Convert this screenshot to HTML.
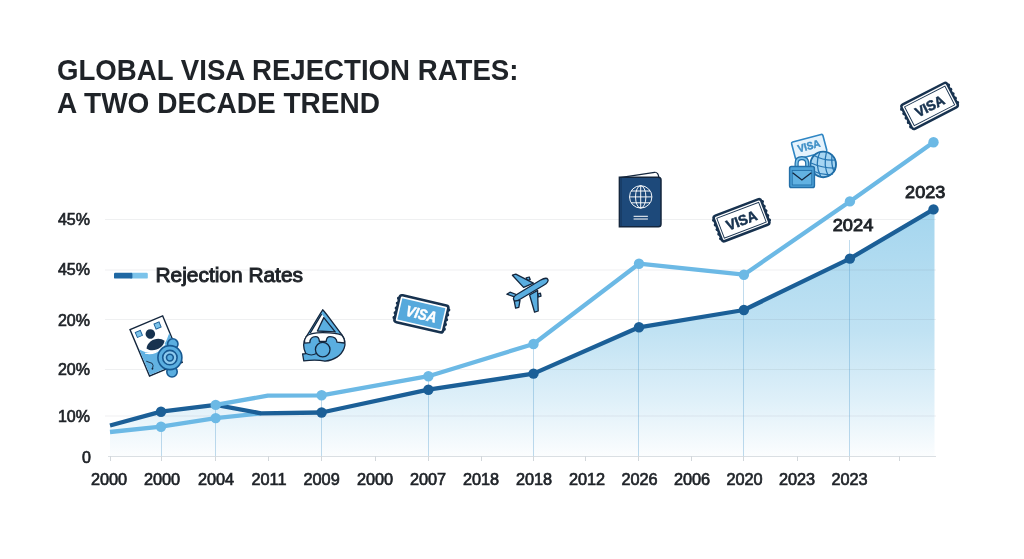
<!DOCTYPE html>
<html lang="en">
<head>
<meta charset="utf-8">
<title>Global Visa Rejection Rates: A Two Decade Trend</title>
<style>
  html, body { margin: 0; padding: 0; background: #ffffff; }
  body { width: 1024px; height: 559px; overflow: hidden; }
  svg { display: block; }
  text { font-family: "Liberation Sans", Arial, sans-serif; fill: #1f2328; }
  .title { font-size: 29.5px; font-weight: bold; }
  .ylab { font-size: 16px; font-weight: normal; stroke: #1f2328; stroke-width: 0.68px; text-anchor: end; }
  .xlab { font-size: 16.3px; font-weight: normal; stroke: #1f2328; stroke-width: 0.68px; text-anchor: middle; }
  .legend { font-size: 20px; font-weight: normal; stroke: #1f2328; stroke-width: 0.95px; }
  .ann { font-size: 17.2px; font-weight: normal; stroke: #1f2328; stroke-width: 0.9px; text-anchor: middle; }
  .grid line { stroke: rgba(80,95,110,0.095); stroke-width: 1; }
  .guide line { stroke: rgba(80,155,205,0.36); stroke-width: 1; }
  .ticks line { stroke: #d2d7db; stroke-width: 1; }
</style>
</head>
<body>
<svg width="1024" height="559" viewBox="0 0 1024 559">
  <defs>
    <linearGradient id="areaFill" gradientUnits="userSpaceOnUse" x1="0" y1="205" x2="0" y2="456">
      <stop offset="0" stop-color="#a3d5ee"/>
      <stop offset="0.5" stop-color="#c0e2f3"/>
      <stop offset="0.78" stop-color="#dff0f9"/>
      <stop offset="1" stop-color="#fbfdfe"/>
    </linearGradient>
  </defs>
  <rect x="0" y="0" width="1024" height="559" fill="#ffffff"/>

  <!-- TITLE -->
  <text class="title" x="57" y="79.5" textLength="461.5" lengthAdjust="spacingAndGlyphs">GLOBAL VISA REJECTION RATES:</text>
  <text class="title" x="57" y="112.5" textLength="323" lengthAdjust="spacingAndGlyphs">A TWO DECADE TREND</text>

  <!-- AREA -->
  <path id="area" fill="url(#areaFill)" d="M110,425.5 L161,411.7 L215.7,404.9 L261,413.3 L321.6,412.5 L428.4,389.7 L533.5,373.6 L639,327.3 L743.9,310 L849.9,258.6 L934.5,208.9 L934.5,456 L110,456 Z"/>

  <!-- GRID -->
  <g class="grid">
    <line x1="105" y1="219.5" x2="936" y2="219.5"/>
    <line x1="105" y1="270" x2="936" y2="270"/>
    <line x1="105" y1="319.5" x2="936" y2="319.5"/>
    <line x1="105" y1="369.5" x2="936" y2="369.5"/>
    <line x1="105" y1="416" x2="936" y2="416"/>
  </g>

  <!-- axis -->
  <line x1="108" y1="456.5" x2="936" y2="456.5" stroke="#dadfe3" stroke-width="1"/>
  <g class="ticks">
    <line x1="110.5" y1="456" x2="110.5" y2="461"/>
    <line x1="161.5" y1="456" x2="161.5" y2="461"/>
    <line x1="215.5" y1="456" x2="215.5" y2="461"/>
    <line x1="268.5" y1="456" x2="268.5" y2="461"/>
    <line x1="321.5" y1="456" x2="321.5" y2="461"/>
    <line x1="375.5" y1="456" x2="375.5" y2="461"/>
    <line x1="428.5" y1="456" x2="428.5" y2="461"/>
    <line x1="481.5" y1="456" x2="481.5" y2="461"/>
    <line x1="533.5" y1="456" x2="533.5" y2="461"/>
    <line x1="585.5" y1="456" x2="585.5" y2="461"/>
    <line x1="638.5" y1="456" x2="638.5" y2="461"/>
    <line x1="691.5" y1="456" x2="691.5" y2="461"/>
    <line x1="743.5" y1="456" x2="743.5" y2="461"/>
    <line x1="797.5" y1="456" x2="797.5" y2="461"/>
    <line x1="849.5" y1="456" x2="849.5" y2="461"/>
    <line x1="899.5" y1="456" x2="899.5" y2="461"/>
  </g>
  <g class="guide">
    <line x1="161.5" y1="427" x2="161.5" y2="456"/>
    <line x1="215.5" y1="405" x2="215.5" y2="456"/>
    <line x1="321.5" y1="396" x2="321.5" y2="456"/>
    <line x1="428.5" y1="377" x2="428.5" y2="456"/>
    <line x1="533.5" y1="344" x2="533.5" y2="456"/>
    <line x1="638.5" y1="264" x2="638.5" y2="456"/>
    <line x1="743.5" y1="275" x2="743.5" y2="456"/>
    <line x1="849.5" y1="240" x2="849.5" y2="456"/>
  </g>

  <!-- LIGHT LINE (lower, left) -->
  <polyline fill="none" stroke="#6cb9e5" stroke-width="4.3" stroke-linejoin="round" stroke-linecap="butt" points="110,432 161,426.7 215.7,418.1 261,413.3"/>
  <!-- DARK LINE -->
  <polyline fill="none" stroke="#1b5f97" stroke-width="4.3" stroke-linejoin="round" stroke-linecap="butt" points="110,425.5 161,411.7 215.7,404.9 261,413.3 321.6,412.5 428.4,389.7 533.5,373.6 639,327.3 743.9,310 849.9,258.6 933.5,209.4"/>
  <!-- LIGHT LINE (upper) -->
  <polyline fill="none" stroke="#6cb9e5" stroke-width="4.3" stroke-linejoin="round" stroke-linecap="butt" points="215.7,404.9 267.8,395.7 321.6,395.3 428.4,376.2 533.5,344 639,263.7 743.9,274.7 849.9,201.4 933.5,142.3"/>

  <!-- DOTS -->
  <g fill="#1b5f97">
    <circle cx="161" cy="411.7" r="5.2"/>
    <circle cx="321.6" cy="412.5" r="5.2"/>
    <circle cx="428.4" cy="389.7" r="5.2"/>
    <circle cx="533.5" cy="373.6" r="5.2"/>
    <circle cx="639" cy="327.3" r="5.2"/>
    <circle cx="743.9" cy="310" r="5.2"/>
    <circle cx="849.9" cy="258.6" r="5.2"/>
    <circle cx="933.5" cy="209.4" r="5.2"/>
  </g>
  <g fill="#6cb9e5">
    <circle cx="161" cy="426.7" r="5.2"/>
    <circle cx="215.7" cy="418.1" r="5.2"/>
    <circle cx="215.7" cy="404.9" r="5.2"/>
    <circle cx="321.6" cy="395.3" r="5.2"/>
    <circle cx="428.4" cy="376.2" r="5.2"/>
    <circle cx="533.5" cy="344" r="5.2"/>
    <circle cx="639" cy="263.7" r="5.2"/>
    <circle cx="743.9" cy="274.7" r="5.2"/>
    <circle cx="849.9" cy="201.4" r="5.2"/>
    <circle cx="933.5" cy="142.3" r="5.2"/>
  </g>

  <!-- Y LABELS -->
  <text class="ylab" x="90" y="224.5">45%</text>
  <text class="ylab" x="90" y="275">45%</text>
  <text class="ylab" x="90" y="325.5">20%</text>
  <text class="ylab" x="90" y="374.5">20%</text>
  <text class="ylab" x="90" y="421.5">10%</text>
  <text class="ylab" x="91" y="462.8">0</text>

  <!-- X LABELS -->
  <text class="xlab" x="109" y="484.5">2000</text>
  <text class="xlab" x="162" y="484.5">2000</text>
  <text class="xlab" x="216" y="484.5">2004</text>
  <text class="xlab" x="269" y="484.5">2011</text>
  <text class="xlab" x="321.6" y="484.5">2009</text>
  <text class="xlab" x="375" y="484.5">2000</text>
  <text class="xlab" x="428" y="484.5">2007</text>
  <text class="xlab" x="481" y="484.5">2018</text>
  <text class="xlab" x="534" y="484.5">2018</text>
  <text class="xlab" x="587" y="484.5">2012</text>
  <text class="xlab" x="639.5" y="484.5">2026</text>
  <text class="xlab" x="692" y="484.5">2006</text>
  <text class="xlab" x="744.5" y="484.5">2020</text>
  <text class="xlab" x="797" y="484.5">2023</text>
  <text class="xlab" x="849.5" y="484.5">2023</text>

  <!-- ANNOTATIONS -->
  <text class="ann" x="853" y="231.4" textLength="40.6" lengthAdjust="spacingAndGlyphs">2024</text>
  <text class="ann" x="925.2" y="197.7" textLength="40.2" lengthAdjust="spacingAndGlyphs">2023</text>

  <!-- LEGEND -->
  <rect x="130" y="272.8" width="17.8" height="5.8" rx="1.2" fill="#7cc3ea"/>
  <rect x="114" y="272.8" width="18.4" height="5.8" rx="1.2" fill="#1f68a3"/>
  <text class="legend" x="155.5" y="281.5" textLength="147.5" lengthAdjust="spacingAndGlyphs">Rejection Rates</text>

  <!-- ICONS -->
  <g id="icons">
    <!-- ICON 1: photo ID card with seal -->
    <g transform="translate(156.1 345.9) rotate(-22.8)">
      <rect x="-17.7" y="-25.2" width="35.4" height="50.4" fill="#ffffff" stroke="#14263d" stroke-width="1.4"/>
      <path d="M-17,-3.5 C-13,2 -8,5.5 -3,5.5 C4,5.5 10,1 14.5,-4 L17,-6.5 L17,24.5 L-17,24.5 Z" fill="#62b2e2"/>
      <path d="M-13,2.5 C-9,5 -6,5.8 -3,5.8 C2,5.8 6,4 9,1.5" fill="none" stroke="#ffffff" stroke-width="1.2"/>
      <rect x="-14" y="-20.5" width="5.5" height="5.5" fill="#7cc3ea" stroke="#1b5f97" stroke-width="0.9"/>
      <rect x="6.5" y="-21" width="5.5" height="5.5" fill="#7cc3ea" stroke="#1b5f97" stroke-width="0.9"/>
      <circle cx="-0.7" cy="-13.2" r="4.8" fill="#17324f"/>
      <path d="M-9.8,-1.4 C-6,-8.6 6,-8.6 9.8,-1.4 C6,5.2 -6,5.2 -9.8,-1.4 Z" fill="#17324f"/>
      <path d="M-15,10.3 L-10.4,14.6 L-10.4,17 L-12.4,20" fill="none" stroke="#14263d" stroke-width="0.8"/><circle cx="-12.2" cy="19.6" r="0.9" fill="#14263d"/>
    </g>
    <g fill="#5aaee0" stroke="#185a92" stroke-width="1.6">
      <circle cx="172.8" cy="344" r="5.2"/>
      <circle cx="172" cy="371.8" r="5.2"/>
      <circle cx="169.9" cy="357.6" r="12"/>
      <circle cx="169.9" cy="357.6" r="7.2" fill="#8fcbee"/>
      <circle cx="169.9" cy="357.6" r="3.4" fill="#5aaee0"/>
    </g>

    <!-- ICON 2: drop -->
    <g stroke="#14263d" stroke-width="1.3" stroke-linejoin="round">
      <path d="M322.7,309.8 C321,312 310,331 306,337 C303,342 303,348 305.8,353.6 L302.6,354 L303.8,360.8 C312,359.8 320,360 325,361.2 C334,360.5 341.5,355.5 344.2,348 C346,343 344.5,338.5 342,335 C338,330 326,313 322.7,309.8 Z" fill="#5aaee0"/>
      <path d="M321.8,314 L310.2,333.4 L335.4,333.4 Z" fill="#ffffff" stroke="none"/>
      <path d="M306.2,336.6 C309,333.4 314,332.6 322.7,332.6 C331,332.6 338,333 341.8,335.2 C344,338 344.8,340.8 344.4,343 L337,342.2 C336.5,338 333,336.6 330,336.6 C327.5,336.6 326.4,338.6 326.2,341.4 L319.4,341.4 C319.2,338.6 318,336.6 315.6,336.6 C312.6,336.6 310,338.4 309.8,342.6 L304.6,343.2 C304.2,340.6 304.8,338.4 306.2,336.6 Z" fill="#ffffff"/>
      <path d="M323.8,317.6 L317.4,331 L335.2,331.8 Z" fill="#5aaee0"/>
      <path d="M310.2,333.2 L321.6,314.2" fill="none"/>
      <circle cx="322.7" cy="349.6" r="7.3" fill="#5aaee0"/>
      <path d="M306,353.6 C310,355.6 313,355.4 316.4,353.6" fill="none" stroke-width="1.1"/>
    </g>

    <!-- ICON 3: blue VISA stamp -->
    <g transform="translate(421.4 313.8) rotate(13)">
      <path d="M-25.9,-9.9 L-25.9,11 M25.9,-9.9 L25.9,11" fill="none" stroke="#17324f" stroke-width="3" stroke-linecap="round" stroke-dasharray="0 4.95"/>
      <rect x="-25" y="-13.8" width="50" height="27.6" rx="2.6" fill="#ffffff" stroke="#17324f" stroke-width="2.6"/>
      <rect x="-22.1" y="-10.9" width="44.2" height="21.8" fill="#56a9dc"/>
      <text x="0" y="5.4" text-anchor="middle" font-size="15" font-weight="bold" font-style="italic" style="fill:#ffffff;stroke:#ffffff;stroke-width:0.5px" textLength="31" lengthAdjust="spacingAndGlyphs">VISA</text>
    </g>

    <!-- ICON 4: airplane -->
    <g fill="#5aaee0" stroke="#14263d" stroke-width="1.3" stroke-linejoin="round">
      <path d="M526.2,277.9 L529.2,277 L530.2,279.6 L527.4,280.6 Z"/>
      <path d="M537.6,294 L540.4,293.2 L541,296.2 L538.4,297 Z"/>
      <path d="M523.6,287.4 L512.4,275.2 L515.8,274.2 L533.4,283.2 Z"/>
      <path d="M529.6,295 L534.6,312.2 L538.2,311 L537.6,290.4 Z"/>
      <path d="M514.4,296.8 L506.8,294.2 L510,292.2 L517.6,295 Z"/>
      <path d="M514.2,300.8 L515.6,308.2 L518.8,307.4 L520,300.4 Z"/>
      <g transform="translate(530.6 289.5) rotate(-30.6)">
        <path d="M-19.8,0.6 C-19.8,-1.2 -18,-2.7 -14,-2.8 L13,-3 C17.5,-3 20,-1.4 20,0 C20,1.6 17.5,3 13,3 L-14,3 C-18,3 -19.8,2 -19.8,0.6 Z"/>
      </g>
    </g>

    <!-- ICON 5: passport -->
    <g>
      <path d="M619.8,177.6 L654.6,172.3 C657.2,172 658.6,174.4 658.8,177.6 Z" fill="#ffffff" stroke="#14263d" stroke-width="1.2" stroke-linejoin="round"/>
      <path d="M619.4,177.2 L658.4,177.2 Q661,177.2 661,180 L661,224 Q661,226.8 658.4,226.8 L619.4,226.8 Z" fill="#1d497a" stroke="#14263d" stroke-width="1.5"/>
      <line x1="621.2" y1="178" x2="621.2" y2="226" stroke="#183d66" stroke-width="1.4"/>
      <g fill="none" stroke="#ffffff" stroke-width="0.95">
        <circle cx="640.7" cy="196.9" r="11.2"/>
        <ellipse cx="640.7" cy="196.9" rx="5.2" ry="11.2"/>
        <line x1="640.7" y1="185.7" x2="640.7" y2="208.1"/>
        <line x1="629.5" y1="196.9" x2="651.9" y2="196.9"/>
        <path d="M631.2,191 L650.2,191 M631.2,202.8 L650.2,202.8"/>
      </g>
      <line x1="633.6" y1="216.3" x2="647.9" y2="216.3" stroke="#ffffff" stroke-width="1"/>
      <line x1="633.6" y1="219" x2="647.9" y2="219" stroke="#ffffff" stroke-width="1"/>
    </g>

    <!-- ICON 6: white VISA stamp -->
    <g transform="translate(741.5 220.2) rotate(-20.9)">
      <path d="M-26.2,-9.9 L-26.2,11 M26.2,-9.9 L26.2,11" fill="none" stroke="#17324f" stroke-width="3" stroke-linecap="round" stroke-dasharray="0 4.95"/>
      <rect x="-25.4" y="-13.6" width="50.8" height="27.2" rx="2.6" fill="#ffffff" stroke="#17324f" stroke-width="2.6"/>
      <rect x="-22.4" y="-10.6" width="44.8" height="21.2" fill="#ffffff" stroke="#17324f" stroke-width="0.9"/>
      <text x="0" y="5.3" text-anchor="middle" font-size="14.5" font-weight="bold" style="fill:#17324f;stroke:#17324f;stroke-width:0.55px" textLength="32" lengthAdjust="spacingAndGlyphs">VISA</text>
    </g>

    <!-- ICON 7: VISA card + lock + globe -->
    <g>
      <g transform="translate(809 146.2) rotate(-14.8)">
        <rect x="-16.2" y="-8.3" width="32.4" height="18" rx="1.5" fill="#e6f3fc" stroke="#2f86c4" stroke-width="1.6"/>
        <text x="0" y="3.4" text-anchor="middle" font-size="10.5" font-weight="bold" style="fill:#3f8fc6;stroke:#3f8fc6;stroke-width:0.45px" textLength="23" lengthAdjust="spacingAndGlyphs">VISA</text>
      </g>
      <circle cx="823.2" cy="164.4" r="12.8" fill="#a6d5f2" stroke="#1f6ca5" stroke-width="1.9"/>
      <g fill="none" stroke="#2474b0" stroke-width="1.25">
        <path d="M814,155.5 Q824,161 835.5,160"/>
        <path d="M811,163 Q823,168.5 836,168"/>
        <path d="M813,171 Q823,176 833,174"/>
        <path d="M820,152 Q814,164 821,177"/>
        <path d="M826.5,151.8 Q823,165 828.5,176.5"/>
        <path d="M832,154.5 Q831,165 834,171.5"/>
      </g>
      <path d="M796.6,167 L796.6,163.4 Q796.6,158.2 801.9,158.2 Q807.2,158.2 807.2,163.4 L807.2,167" fill="none" stroke="#236fa8" stroke-width="4.2"/>
      <path d="M796.6,167 L796.6,163.4 Q796.6,158.2 801.9,158.2 Q807.2,158.2 807.2,163.4 L807.2,167" fill="none" stroke="#7cc3ea" stroke-width="1.8"/>
      <rect x="789.6" y="166.6" width="24.8" height="21" rx="1.8" fill="#4fa3d8" stroke="#236fa8" stroke-width="1.5"/>
      <rect x="792.2" y="170.4" width="19.6" height="14.6" fill="#62b2e2" stroke="#236fa8" stroke-width="0.9"/>
      <path d="M792.6,172.8 L801.9,180 L811.4,172.8" fill="none" stroke="#14263d" stroke-width="1.3"/>
    </g>

    <!-- ICON 8: top-right VISA stamp -->
    <g transform="translate(929.6 105.9) rotate(-27.3)">
      <path d="M-26.5,-9.9 L-26.5,11 M26.5,-9.9 L26.5,11" fill="none" stroke="#17324f" stroke-width="3" stroke-linecap="round" stroke-dasharray="0 4.95"/>
      <rect x="-25.7" y="-13.6" width="51.4" height="27.2" rx="2.6" fill="#ffffff" stroke="#17324f" stroke-width="2.4"/>
      <rect x="-22.7" y="-10.6" width="45.4" height="21.2" fill="#ffffff" stroke="#17324f" stroke-width="0.9"/>
      <text x="0" y="5.1" text-anchor="middle" font-size="14" font-weight="bold" style="fill:#17324f;stroke:#17324f;stroke-width:0.55px" textLength="31" lengthAdjust="spacingAndGlyphs">VISA</text>
    </g>
  </g>
</svg>
</body>
</html>
